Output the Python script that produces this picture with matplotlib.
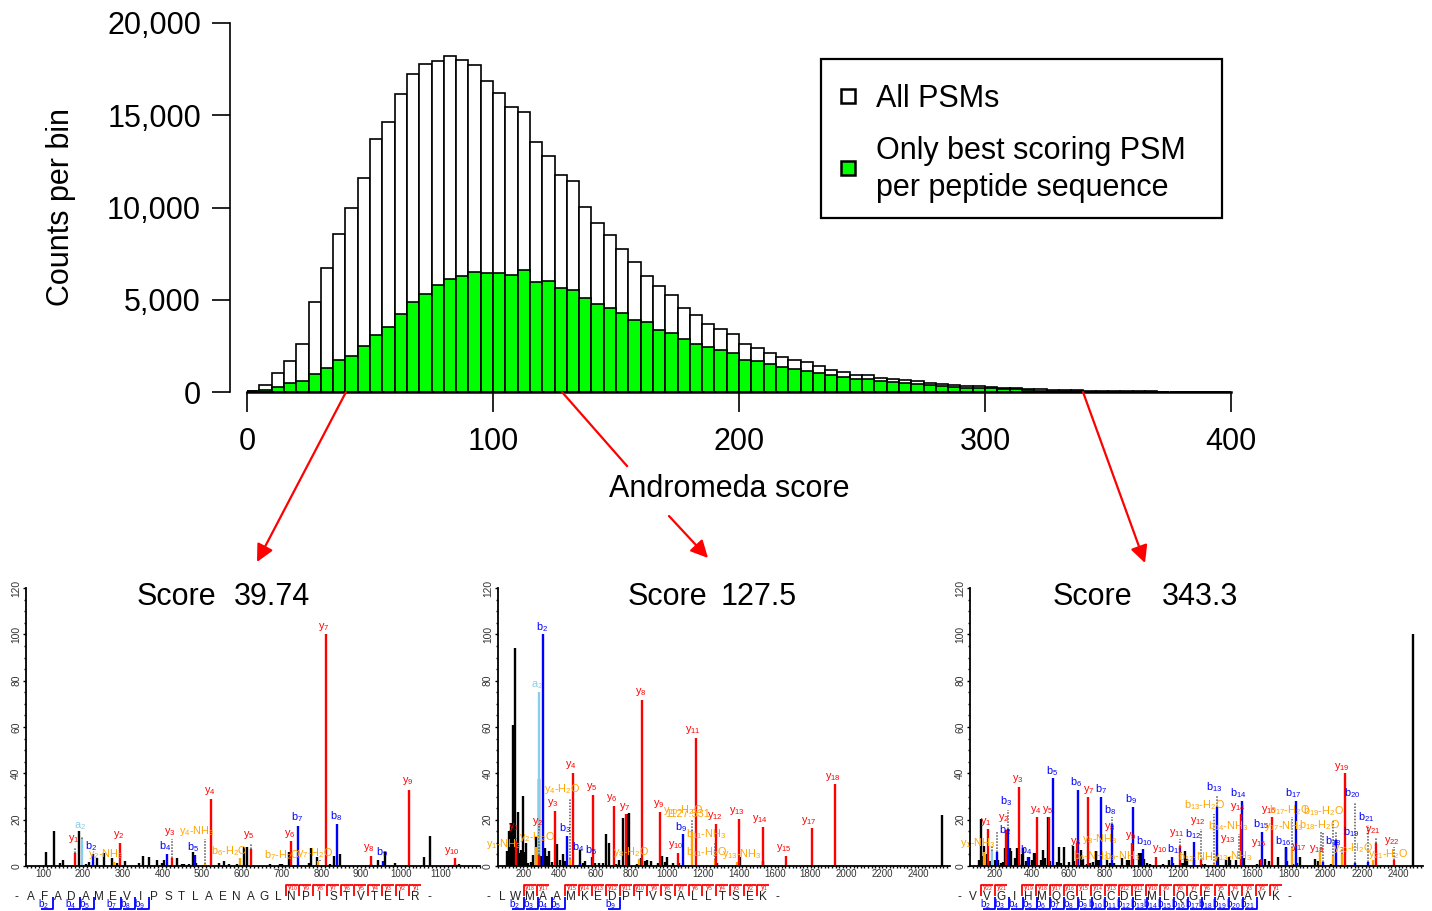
import re
import matplotlib
matplotlib.use("Agg")
import matplotlib.pyplot as plt
from matplotlib.patches import Rectangle
from matplotlib.ticker import MultipleLocator

plt.rcParams['font.family'] = ['Liberation Sans', 'DejaVu Sans']
plt.rcParams['mathtext.fontset'] = 'custom'
plt.rcParams['mathtext.rm'] = 'Liberation Sans'
plt.rcParams['mathtext.default'] = 'regular'

# histogram, bins of 5 score units starting at 0
all_psms = [50, 360, 1010, 1680, 2580, 4880, 6720, 8550, 10000, 11600, 13730, 14640, 16170, 17220, 17760, 17940,
            18210, 18000, 17700, 16860, 16190, 15470, 15180, 13570, 12780, 11750, 11420, 10050, 9180, 8510, 7730,
            7050, 6300, 5730, 5240, 4570, 4190, 3700, 3430, 3130, 2620, 2390, 2100, 1880, 1720, 1610, 1390, 1170,
            1080, 920, 900, 780, 700, 630, 580, 510, 450, 360, 325, 310, 270, 235, 200, 160, 145, 125, 100, 90,
            80, 70, 60, 50, 40, 30, 25, 20, 15, 10, 10, 5]
best_psms = [30, 100, 290, 470, 600, 980, 1320, 1720, 1930, 2490, 3070, 3520, 4210, 4900, 5290, 5820, 6110, 6270,
             6520, 6450, 6450, 6340, 6630, 5960, 6030, 5640, 5510, 5100, 4790, 4570, 4300, 3920, 3810, 3340, 3200,
             2850, 2620, 2420, 2290, 2100, 1750, 1700, 1500, 1370, 1230, 1160, 1030, 900, 830, 700, 690, 580, 560,
             490, 430, 360, 340, 270, 235, 235, 200, 160, 160, 110, 70, 55, 40, 30, 25, 20, 15, 10, 8, 5, 4, 3, 2,
             1, 1, 1]
score_ticks = [0, 100, 200, 300, 400]
count_ticks = [0, 5000, 10000, 15000, 20000]

# spectrum 1: (m/z, intensity)
p1_black = [(108, 6), (126, 15), (142, 1.5), (149, 2.6), (190, 15.2), (207, 1), (216, 1.7), (234, 3.3), (253, 5.5),
            (273, 3.4), (286, 1.5), (306, 2), (341, 1.2), (352, 4.3), (366, 3.7), (387, 2.4), (400, 1.3), (405, 2.8),
            (437, 3.5), (450, 1), (455, .9), (467, .8), (477, 6.2), (485, 1.5), (543, 1.2), (554, 2.1), (568, .8),
            (587, .8), (605, 8), (612, 8), (671, 1), (695, .9), (700, .9), (718, 6), (769, 1.2), (775, 7.8), (790, 4),
            (821, 1), (831, 4.3), (847, 5.2), (925, 1), (944, 2.7), (961, 6), (986, 1.2), (1058, 4), (1075, 13),
            (1136, 1), (1148, .8)]
p1_red = [(180, 5.5), (294, 10), (424, 3.6), (523, 29), (622, 7.5), (724, 11), (811, 100), (925, 4.3), (1021, 33),
          (1136, 3.3)]
p1_blue = [(225, 5.2), (411, 5.3), (481, 4.8), (741, 17.4), (841, 18.3), (955, 2)]
p1_sky = [(197, 11.5)]
p1_orange = [(163, .5), (277, 1.8), (507, .8), (595, 3.3), (793, 2.3)]
p1_dotted = [(197, 11.5, 13), (180, 5.5, 8), (424, 3.6, 11.5), (507, .8, 11.5), (622, 7.5, 10), (798, 2.3, 2.6)]
p1_labels = [(192, 17.3, 'a2'), (176, 11.5, 'y1'), (221, 8.8, 'b2'), (258, 5.2, 'y2-NH3'), (291, 13.2, 'y2'),
             (407, 8.8, 'b4'), (419, 14.5, 'y3'), (477, 8.2, 'b5'), (486, 15.1, 'y4-NH3'), (520, 32.2, 'y4'),
             (569, 6.5, 'b6-H2O'), (618, 13.2, 'y5'), (703, 4.5, 'b7-H2O'), (721, 14, 'y6'), (738, 20.9, 'b7'),
             (785, 5.8, 'y7-H2O'), (807, 103, 'y7'), (837, 21.7, 'b8'), (921, 7.6, 'y8'), (953, 5.8, 'b9'),
             (1018, 36.5, 'y9'), (1129, 6.6, 'y10')]
p1_seq = "-AFADAMEVIPSTLAENAGLNPISTVTELR-"
p1_y_idx = list(range(20, 30))
p1_b_idx = [2, 4, 5, 7, 8, 9]

# spectrum 2
p2_black = [(111, 6.6), (120, 15.2), (131, 18.4), (142, 60.7), (154, 94), (168, 23.5), (180, 5.5), (189, 7), (198, 30.2),
            (206, 6.2), (213, 9.8), (228, 1.5), (241, 1.7), (252, 4.6), (270, 12.7), (287, 37.4), (298, 4.3), (321, 7.6),
            (330, 4.3), (341, 6.5), (360, 1.8), (386, 9.5), (404, 2.5), (419, 5.2), (432, 2.3), (516, 6.9), (534, 1.2),
            (544, 2.3), (599, 1.2), (621, 1.2), (645, 1.1), (660, 14), (675, 9.8), (714, .9), (735, 2.5), (755, 20.6),
            (781, 22.4), (790, 22.7), (831, .8), (854, 3.6), (877, 2), (887, 2.6), (911, 2), (952, 1.2), (972, 4.4),
            (989, 1.7), (1000, 3.7), (1034, 1.1), (1069, 1.4), (1280, 1.2), (1407, 4.1), (1533, 2.2), (2532, 21.9)]
p2_red = [(157, 10.5), (287, 4.7), (375, 23.9), (475, 40.3), (590, 30.5), (703, 25.9), (774, 22.4), (861, 71.7),
          (961, 23.5), (1060, 5.8), (1160, 55.3), (1275, 18.1), (1403, 20.1), (1533, 17), (1663, 4.5), (1808, 16.3),
          (1938, 35.4)]
p2_blue = [(311, 100), (443, 13), (514, 1), (581, 4), (1087, 13.7)]
p2_sky = [(285, 75)]
p2_orange = [(270, 8), (460, 2.9), (844, 2.9), (1139, 15.2), (1268, 2.6), (1392, 1.7)]
p2_dotted = [(1141, 15, 20.5), (460, 2.9, 29.5), (1268, 2.6, 10.5), (157, 10.5, 12), (287, 4.7, 18)]
p2_labels = [(148, 17, 'y1'), (278, 19, 'y2'), (89, 9.5, 'y1-NH3'), (278, 12.4, 'y2-H2O'), (274, 78, 'a2'),
             (302, 103.3, 'b2'), (365, 27, 'y3'), (417, 33.2, 'y4-H2O'), (465, 43.5, 'y4'), (432, 16.5, 'b3'),
             (504, 8.3, 'b4'), (575, 6.9, 'b5'), (581, 34, 'y5'), (694, 29.2, 'y6'), (764, 25.6, 'y7'),
             (800, 6.2, 'y8-H2O'), (854, 75, 'y8'), (952, 26.6, 'y9'), (1047, 8.9, 'y10'), (1091, 24, 'y10-H2O'),
             (1114, 22.4, '1127.531'), (1078, 17, 'b9'), (1145, 58.6, 'y11'), (1221, 13.8, 'b11-NH3'),
             (1221, 6.2, 'b11-H2O'), (1268, 21.4, 'y12'), (1390, 23.6, 'y13'), (1416, 5.3, 'y13-NH3'),
             (1520, 20.1, 'y14'), (1650, 7.6, 'y15'), (1793, 19.3, 'y17'), (1923, 38.6, 'y18')]
p2_seq = "-LWMAAMKEDPTVSALLTSEK-"
p2_y_idx = [3, 4] + list(range(6, 21))
p2_b_idx = [2, 3, 4, 5, 9]

# spectrum 3
p3_black = [(115, 2.5), (122, 20.3), (129, 4.5), (140, 8.8), (155, 5), (173, 2), (200, 2.5), (218, 2.5), (231, 1.5),
            (242, 1.8), (255, 7.6), (267, 7.6), (282, 7.6), (289, 6.5), (311, 3.3), (322, 7.6), (331, 1.5), (346, 5),
            (355, 7.6), (369, 2), (388, 3.7), (400, 2.5), (413, 5.8), (424, 5.4), (449, 2.5), (460, 6.7), (475, 3.3),
            (491, 21.3), (500, 2), (540, 1.8), (550, 8), (561, 1.5), (578, 8), (605, 1.7), (623, 8.6), (632, 2),
            (645, 7), (668, 6.7), (681, 3), (699, 1), (717, 1.5), (732, 1.7), (749, 6.6), (758, 2.8), (767, 2.5),
            (812, 2.5), (826, 1.5), (850, 1.5), (890, 3.3), (917, 2.5), (930, 2.8), (986, 5.4), (993, 5.8), (1000, 3.7),
            (1011, 3), (1026, 1.5), (1044, .8), (1117, 1), (1150, 2.8), (1171, 1.5), (1213, 1.3), (1222, 1.3),
            (1235, 6.5), (1244, 3), (1286, 2.8), (1329, 1), (1344, .8), (1416, 3.7), (1461, 2.8), (1476, 3.7),
            (1483, 2.5), (1512, 2.8), (1558, 3.3), (1629, .9), (1643, 2.5), (1670, 3), (1692, 2.2), (1743, 3.8),
            (1785, 8), (1792, 2), (1824, .8), (1846, 1.2), (1864, 3.9), (1943, 3), (1959, 2), (2033, 1), (2476, 100)]
p3_red = [(160, 15.8), (260, 15.5), (331, 34), (431, 21.3), (496, 21.3), (645, 10), (706, 30), (948, 10), (1078, 3.7),
          (1207, 8.6), (1322, 2.6), (1540, 22.3), (1652, 3), (1710, 21), (2106, 40), (2277, 9.8), (2376, 2.6)]
p3_blue = [(211, 6.2), (273, 15.8), (381, 3.7), (518, 37.8), (650, 32.8), (777, 30), (837, 18.1), (950, 25.6),
           (1006, 7.2), (1166, 3.7), (1282, 10.4), (1412, 25.3), (1545, 28.2), (1656, 14.8), (1785, 7.6), (1841, 28.2),
           (1988, 1.9), (2060, 11.2), (2160, 1.4), (2233, 1.9)]
p3_sky = [(185, 6.6)]
p3_orange = [(142, 6.2), (1394, 1), (1821, 7.6), (1970, 6.2), (2039, 4.3), (2090, 5), (2257, 2.6)]
p3_dotted = [(185, 6.6, 9), (211, 6.2, 14.5), (273, 15.8, 24), (835, 18, 21), (1207, 8.6, 11.5), (1322, 2.6, 16),
             (1394, 1, 22.5), (1412, 25.3, 30.5), (1527, 3, 14), (1821, 7.6, 21), (1976, 6.2, 14.5), (1988, 1.9, 14.5),
             (2043, 4.3, 20), (2060, 11.2, 14.5), (2160, 1.4, 27.5), (2233, 1.9, 17.5), (2277, 9.8, 12), (2376, 2.6, 8),
             (2090, 5, 8)]
p3_labels = [(106, 9.8, 'y1-NH3'), (151, 19, 'y1'), (247, 20.6, 'y2'), (254, 15.4, 'b2'), (260, 27.8, 'b3'),
             (322, 37.4, 'y3'), (372, 6.9, 'b4'), (421, 24.2, 'y4'), (488, 24.2, 'y5'), (509, 41, 'b5'), (639, 36.4, 'b6'),
             (638, 10.2, 'y6'), (726, 4.3, 'b6-NH3'), (710, 33, 'y7'), (779, 33.2, 'b7'), (772, 11.7, 'y8-NH3'),
             (826, 24.2, 'b8'), (823, 17, 'y8'), (892, 4.2, 'b9-NH3'), (937, 13, 'y9'), (939, 29, 'b9'), (1010, 10.8, 'b10'),
             (1100, 7.2, 'y10'), (1191, 14.4, 'y11'), (1184, 7.3, 'b11'), (1280, 13.8, 'b12'), (1307, 4, 'b12-NH3'),
             (1307, 19.3, 'y12'), (1344, 26.5, 'b13-H2O'), (1394, 34, 'b13'), (1467, 11.5, 'y13'), (1498, 4.2, 'y13-NH3'),
             (1472, 17.3, 'b14-NH3'), (1526, 31.5, 'b14'), (1526, 25.6, 'y14'), (1648, 18.1, 'b15'), (1637, 10, 'y15'),
             (1693, 24.3, 'y16'), (1802, 24.3, 'b17-H2O'), (1775, 17.3, 'y17-NH3'), (1770, 10.8, 'b16'), (1825, 31.5, 'b17'),
             (1858, 8.3, 'y17'), (1966, 17.7, 'b18-H2O'), (1992, 23.5, 'b19-H2O'), (1955, 7.5, 'y18'), (2043, 10.8, 'b18'),
             (2091, 42.9, 'y19'), (2142, 14.5, 'b19'), (2146, 31.4, 'b20'), (2151, 7.9, 'y20-H2O'), (2224, 21.2, 'b21'),
             (2260, 15.5, 'y21'), (2341, 5.3, 'y21-H2O'), (2364, 11, 'y22')]
p3_seq = "-VVGIHMQGLGCDEMLQGFAVAVK-"
p3_y_idx = [2, 3] + list(range(5, 24))
p3_b_idx = list(range(2, 22))

W, H = 1432, 911
RED, BLUE, ORANGE, SKY = '#ff0000', '#0000ff', '#ffa500', '#87ceeb'


def px_axes(fig, left, top, right, bottom):
    return fig.add_axes([left / W, 1 - bottom / H, (right - left) / W, (bottom - top) / H])


def label_color(text):
    if '-' in text or text[0].isdigit():
        return ORANGE
    return {'y': RED, 'b': BLUE, 'a': SKY}[text[0]]


def sub(text):
    # ion names have subscript numbers, the plain mass does not
    if text[0].isdigit():
        return text
    return re.sub(r'(\d+)', r'$_{\1}$', text)


def draw_spectrum(fig, left, right, xlim, xticks, minor, black, red, blue, sky, orange, dotted, labels):
    ax = px_axes(fig, left, 588, right, 866)
    ax.set_xlim(*xlim)
    ax.set_ylim(0, 120)
    for peaks, col in [(black, 'black'), (orange, ORANGE), (sky, SKY), (blue, BLUE), (red, RED)]:
        ax.vlines([p[0] for p in peaks], 0, [p[1] for p in peaks], colors=col, lw=1.7, capstyle='butt')
    ax.vlines([d[0] for d in dotted], [d[1] for d in dotted], [d[2] for d in dotted], colors='#555555', lw=1.1,
              linestyles=(0, (1, 1)))
    for x, y, t in labels:
        ax.text(x, y, sub(t), color=label_color(t), fontsize=7.8, ha='center', va='center')
    ax.spines['top'].set_visible(False)
    ax.spines['right'].set_visible(False)
    ax.spines['left'].set_linewidth(1.3)
    ax.spines['bottom'].set_linewidth(1.3)
    ax.set_xticks(xticks)
    ax.set_yticks(range(0, 121, 20))
    ax.xaxis.set_minor_locator(MultipleLocator(minor))
    ax.yaxis.set_minor_locator(MultipleLocator(5))
    ax.tick_params(axis='x', which='major', length=1.5, pad=0.8, labelsize=7, labelcolor='#333333', width=1)
    ax.tick_params(axis='x', which='minor', length=1.5, width=1)
    ax.tick_params(axis='y', which='major', length=2, pad=1.5, labelsize=7.4, labelcolor='#333333', labelrotation=90, width=1)
    ax.tick_params(axis='y', which='minor', length=1.5, width=1)
    for lab in ax.get_yticklabels():
        lab.set_va('center')
    return ax


def draw_sequence(ov, seq, x0, y_idx, b_idx):
    step = 13.75
    n = len(seq)
    for i, c in enumerate(seq):
        ov.text(x0 + i * step, 897, c, fontsize=8.5, color='#222222', ha='center', va='center')
    for i in y_idx:
        x = x0 + i * step - 6
        ov.plot([x, x, x + 12], [896, 885, 885], color=RED, lw=1.3, solid_capstyle='butt')
        ov.text(x + 6.5, 888, sub('y%d' % (n - 1 - i)), color=RED, fontsize=5.2, ha='center', va='center')
    for i in b_idx:
        x = x0 + i * step + 8.3
        ov.plot([x, x, x - 12], [897, 908.5, 908.5], color=BLUE, lw=1.3, solid_capstyle='butt')
        ov.text(x - 9.5, 904, sub('b%d' % i), color=BLUE, fontsize=7, ha='center', va='center')


fig = plt.figure(figsize=(W / 100, H / 100), dpi=100)

# top histogram
ax = px_axes(fig, 247, 23, 1231, 392)
edges = [i * 5 for i in range(len(all_psms))]
ax.bar(edges, all_psms, width=5, align='edge', color='white', edgecolor='black', lw=1.2)
ax.bar(edges, best_psms, width=5, align='edge', color='#00ff00', edgecolor='black', lw=1.2)
ax.set_xlim(0, 400)
ax.set_ylim(0, 20000)
ax.spines['top'].set_visible(False)
ax.spines['right'].set_visible(False)
ax.spines['left'].set_position(('outward', 12.2))
ax.spines['left'].set_linewidth(1.2)
ax.spines['bottom'].set_linewidth(1.8)
ax.set_xticks(score_ticks)
ax.set_yticks(count_ticks)
ax.set_yticklabels(['{:,}'.format(v) for v in count_ticks])
ax.tick_params(axis='x', length=14.4, width=1.2, pad=10.5, labelsize=22)
ax.tick_params(axis='y', length=13, width=1.2, pad=8, labelsize=22)

# spectra
draw_spectrum(fig, 26, 480, (56.4, 1200), range(100, 1101, 100), 10,
              p1_black, p1_red, p1_blue, p1_sky, p1_orange, p1_dotted, p1_labels)
draw_spectrum(fig, 497.7, 950, (57, 2577), range(200, 2401, 200), 20,
              p2_black, p2_red, p2_blue, p2_sky, p2_orange, p2_dotted, p2_labels)
draw_spectrum(fig, 970, 1423, (64, 2532), range(200, 2401, 200), 20,
              p3_black, p3_red, p3_blue, p3_sky, p3_orange, p3_dotted, p3_labels)

# overlay in pixel coordinates for texts, legend box and arrows
ov = fig.add_axes([0, 0, 1, 1], zorder=10)
ov.set_xlim(0, W)
ov.set_ylim(H, 0)
ov.axis('off')
ov.patch.set_alpha(0)

ov.text(61, 207, 'Counts per bin', fontsize=22, rotation=90, ha='center', va='center')
ov.text(729, 489, 'Andromeda score', fontsize=22, ha='center', va='center')
for x, word in [(137, 'Score'), (234, '39.74'), (628, 'Score'), (721, '127.5'), (1053, 'Score'), (1162, '343.3')]:
    ov.text(x, 597, word, fontsize=22, ha='left', va='center')

ov.add_patch(Rectangle((820.5, 59), 401, 159, fc='white', ec='black', lw=1.6))
ov.add_patch(Rectangle((841, 89), 14, 14, fc='white', ec='black', lw=1.8))
ov.add_patch(Rectangle((841, 161), 14, 14, fc='#00ff00', ec='black', lw=1.8))
ov.text(876, 99, 'All PSMs', fontsize=22, ha='left', va='center')
ov.text(876, 151, 'Only best scoring PSM', fontsize=22, ha='left', va='center')
ov.text(876, 188, 'per peptide sequence', fontsize=22, ha='left', va='center')

arrow = dict(arrowstyle='-|>', color='red', lw=1.6, mutation_scale=26, shrinkA=0, shrinkB=0)
ov.annotate('', xy=(257, 562), xytext=(346, 392), arrowprops=arrow)
ov.plot([562, 627], [392, 466], color='red', lw=1.6)
ov.annotate('', xy=(708, 558), xytext=(669, 516), arrowprops=arrow)
ov.annotate('', xy=(1145, 563), xytext=(1083, 392), arrowprops=arrow)

draw_sequence(ov, p1_seq, 16.7, p1_y_idx, p1_b_idx)
draw_sequence(ov, p2_seq, 488.3, p2_y_idx, p2_b_idx)
draw_sequence(ov, p3_seq, 959.5, p3_y_idx, p3_b_idx)

fig.savefig('out.png', dpi=100)
